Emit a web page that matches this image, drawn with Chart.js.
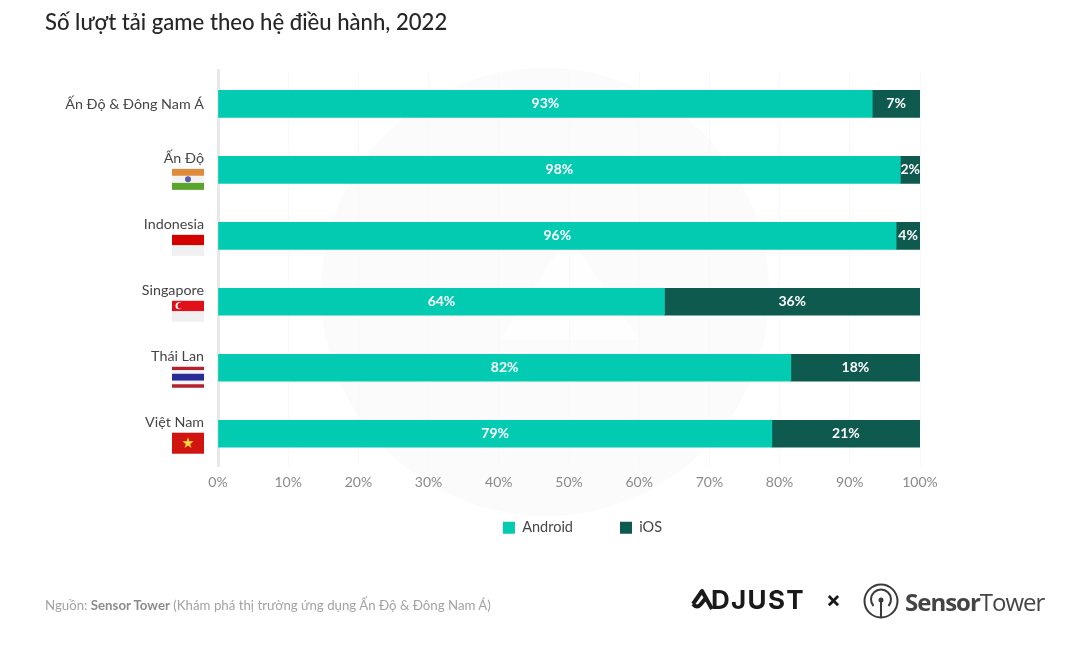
<!DOCTYPE html>
<html>
<head>
<meta charset="utf-8">
<script src="https://cdn.jsdelivr.net/npm/chart.js@4"></script>
<style>
  html, body { margin: 0; padding: 0; background: #fff; }
  #wrap { position: relative; width: 1080px; height: 657px; overflow: hidden; font-family: Lato, sans-serif; }
  #source { position: absolute; left: 45px; top: 597px; font-size: 13.25px; color: #a3a3a3; }
  #source b { color: #8c8c8c; }
  .logo { position: absolute; color: #1a1a1a; white-space: nowrap; }
</style>
</head>
<body>
<div id="wrap">
  <canvas id="chart" width="1080" height="657"></canvas>
  <div id="source">Nguồn: <b>Sensor Tower</b> (Khám phá thị trường ứng dụng Ấn Độ &amp; Đông Nam Á)</div>
  <div class="logo" style="left:711px;top:584px;font:700 26px Inter,sans-serif;letter-spacing:1.3px">DJUST</div>
  <svg class="logo" style="left:689px;top:587px" width="26" height="26" viewBox="0 0 26 26">
    <path d="M4 17 L13 4 L23 22 M4 17 Q8 22 12 17 L16 12" fill="none" stroke="#1a1a1a" stroke-width="4" stroke-linejoin="round"/>
  </svg>
  <div class="logo" style="left:826px;top:586px;font:700 22px Inter,sans-serif">×</div>
  <svg class="logo" style="left:862px;top:582px" width="38" height="38" viewBox="0 0 38 38">
    <circle cx="19" cy="19" r="16.5" fill="none" stroke="#3a3a3a" stroke-width="2"/>
    <path d="M11.5 24 A10 10 0 1 1 26.5 24" fill="none" stroke="#3a3a3a" stroke-width="2"/>
    <circle cx="19" cy="18" r="2.5" fill="#3a3a3a"/>
    <path d="M19 18 V35" stroke="#3a3a3a" stroke-width="2"/>
  </svg>
  <div class="logo" style="left:905px;top:585px;font:24px 'Open Sans',sans-serif;color:#444;letter-spacing:-1px"><b>Sensor</b>Tower</div>
</div>
<script>
const categories = ['Ấn Độ & Đông Nam Á', 'Ấn Độ', 'Indonesia', 'Singapore', 'Thái Lan', 'Việt Nam'];
const androidValues = [93.2, 97.2, 96.6, 63.6, 81.6, 78.9];
const iosValues = [6.8, 2.8, 3.4, 36.4, 18.4, 21.1];
const androidLabels = ['93%', '98%', '96%', '64%', '82%', '79%'];
const iosLabels = ['7%', '2%', '4%', '36%', '18%', '21%'];
const xTicks = [0, 10, 20, 30, 40, 50, 60, 70, 80, 90, 100];

const ANDROID = '#02cbb2';
const IOS = '#0e5a4e';
const TEXT = '#454545';
const FONT = 'Lato, sans-serif';

function drawFlag(c, name, x, y, w, h) {
  const rows = (list) => {
    let top = y;
    list.forEach(r => {
      c.fillStyle = r[0];
      c.fillRect(x, top, w, h * r[1]);
      top += h * r[1];
    });
  };
  if (name === 'Ấn Độ') {
    rows([['#e08a3c', 1 / 3], ['#f2f2f2', 1 / 3], ['#5aa52c', 1 / 3]]);
    c.fillStyle = '#5a5ab0';
    c.beginPath(); c.arc(x + w / 2, y + h / 2, 3, 0, Math.PI * 2); c.fill();
  } else if (name === 'Indonesia') {
    rows([['#d40000', 0.5], ['#f0f0f0', 0.5]]);
  } else if (name === 'Singapore') {
    rows([['#e0101a', 0.5], ['#f0f0f0', 0.5]]);
    c.fillStyle = '#fff';
    c.beginPath(); c.arc(x + 7, y + 5, 3.5, 0, Math.PI * 2); c.fill();
    c.fillStyle = '#e0101a';
    c.beginPath(); c.arc(x + 8.5, y + 5, 3, 0, Math.PI * 2); c.fill();
  } else if (name === 'Thái Lan') {
    rows([['#b5202e', 1 / 6], ['#f4f4f4', 1 / 6], ['#2a2a9a', 1 / 3], ['#f4f4f4', 1 / 6], ['#b5202e', 1 / 6]]);
  } else if (name === 'Việt Nam') {
    rows([['#d0140f', 1]]);
    c.fillStyle = '#ffd83a';
    c.beginPath();
    for (let i = 0; i < 10; i++) {
      const r = i % 2 ? 2.3 : 6;
      const a = -Math.PI / 2 + i * Math.PI / 5;
      c.lineTo(x + w / 2 + r * Math.cos(a), y + h / 2 + r * Math.sin(a));
    }
    c.closePath(); c.fill();
  }
}

const extras = {
  id: 'extras',
  afterLayout(chart) {
    // legend sits off centre and closer to the axis in the original
    chart.legend.left += 100;
    chart.legend.right += 100;
    chart.legend.top -= 24;
    chart.legend.bottom -= 24;
  },
  beforeDraw(chart) {
    // faint watermark behind the plot
    const c = chart.ctx;
    c.save();
    c.fillStyle = '#fbfbfb';
    c.beginPath(); c.arc(545, 292, 224, 0, Math.PI * 2); c.fill();
    c.fillStyle = '#fefefe';
    c.beginPath();
    c.moveTo(568, 235); c.lineTo(640, 340); c.lineTo(500, 340);
    c.closePath(); c.fill();
    c.restore();
  },
  afterDatasetsDraw(chart) {
    const c = chart.ctx;
    const yScale = chart.scales.y;
    c.save();
    c.textAlign = 'center';
    c.textBaseline = 'middle';
    c.fillStyle = '#fff';
    c.font = '700 14px ' + FONT;
    const labelSets = [androidLabels, iosLabels];
    chart.data.datasets.forEach((ds, d) => {
      chart.getDatasetMeta(d).data.forEach((bar, i) => {
        c.fillText(labelSets[d][i], (bar.x + bar.base) / 2, bar.y);
      });
    });
    categories.forEach((name, i) => {
      if (i > 0) drawFlag(c, name, 172, yScale.getPixelForTick(i) - 1, 32, 21);
    });
    c.restore();
  }
};

new Chart(document.getElementById('chart'), {
  type: 'bar',
  data: {
    labels: categories,
    datasets: [
      { label: 'Android', data: androidValues, backgroundColor: ANDROID, barThickness: 27 },
      { label: 'iOS', data: iosValues, backgroundColor: IOS, barThickness: 27 }
    ]
  },
  options: {
    indexAxis: 'y',
    responsive: false,
    animation: false,
    layout: { padding: { left: 45, right: 160, top: 0, bottom: 88 } },
    scales: {
      x: {
        stacked: true,
        min: 0,
        max: 100,
        afterBuildTicks: (axis) => { axis.ticks = xTicks.map(v => ({ value: v })); },
        grid: { color: '#f8f8f8', drawTicks: false },
        border: { display: false },
        ticks: {
          color: '#8a8a8a',
          font: { family: FONT, size: 14 },
          maxRotation: 0,
          padding: 7,
          callback: (v) => v + '%'
        }
      },
      y: {
        stacked: true,
        afterFit: (axis) => { axis.width = 173; },
        grid: { display: false },
        border: { display: true, color: '#e8e8e8', width: 3 },
        ticks: {
          color: TEXT,
          padding: 6,
          font: { family: FONT, size: 14.3, lineHeight: 1.55 },
          // second blank line lifts the name above its flag
          callback: function (v, i) { return i === 0 ? categories[i] : [categories[i], ' ']; }
        }
      }
    },
    plugins: {
      title: {
        display: true,
        text: 'Số lượt tải game theo hệ điều hành, 2022',
        align: 'start',
        color: '#262626',
        font: { family: FONT, size: 22.1, weight: '500' },
        padding: { top: 10, bottom: 34.4 }
      },
      legend: {
        position: 'bottom',
        labels: {
          boxWidth: 12,
          boxHeight: 12,
          padding: 47,
          color: TEXT,
          font: { family: FONT, size: 14.5 }
        }
      },
      tooltip: { enabled: false }
    }
  },
  plugins: [extras]
});
</script>
</body>
</html>
